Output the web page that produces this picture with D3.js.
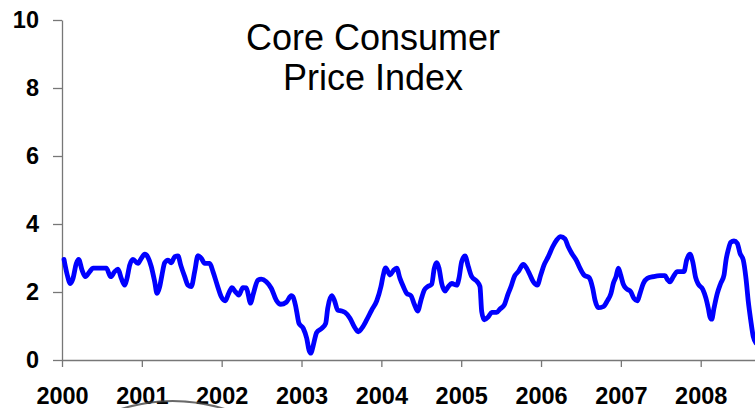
<!DOCTYPE html>
<html lang="en">
<head>
    <meta charset="utf-8" />
    <title>Core Consumer Price Index</title>
    <script src="https://cdn.jsdelivr.net/npm/d3@7"></script>
    <style type="text/css">
        html, body { margin: 0; padding: 0; background: #fff; }
        svg { display: block; }
        .axis path, .axis line { stroke: #777; stroke-width: 1.3px; }
        .axis text { font-family: "Liberation Sans", Arial, sans-serif; font-weight: bold; font-size: 23.5px; fill: #000; }
        .title { font-family: "Liberation Sans", Arial, sans-serif; font-size: 36px; fill: #000; }
    </style>
</head>
<body>
    <svg id="canvas" width="755" height="408" xmlns="http://www.w3.org/2000/svg"></svg>
    <script type="text/javascript">
        // values (decimal year, percent)
        var t = [2000.025, 2000.066, 2000.104, 2000.138, 2000.179, 2000.209, 2000.25, 2000.292, 2000.347, 2000.388,
                 2000.555, 2000.61, 2000.66, 2000.701, 2000.743, 2000.785, 2000.814, 2000.848, 2000.889, 2000.952,
                 2000.993, 2001.036, 2001.077, 2001.118, 2001.161, 2001.19, 2001.224, 2001.252, 2001.286, 2001.328,
                 2001.369, 2001.412, 2001.453, 2001.487, 2001.537, 2001.578, 2001.619, 2001.662, 2001.703, 2001.745,
                 2001.787, 2001.85, 2001.891, 2001.945, 2001.995, 2002.045, 2002.088, 2002.129, 2002.171, 2002.213,
                 2002.267, 2002.308, 2002.363, 2002.392, 2002.455, 2002.496, 2002.559, 2002.621, 2002.684, 2002.739,
                 2002.809, 2002.872, 2002.893, 2002.925, 2002.94, 2002.968, 2003.022, 2003.065, 2003.094, 2003.119,
                 2003.148, 2003.19, 2003.253, 2003.303, 2003.328, 2003.378, 2003.411, 2003.453, 2003.503, 2003.545,
                 2003.607, 2003.661, 2003.711, 2003.754, 2003.816, 2003.879, 2003.942, 2003.995, 2004.024, 2004.054,
                 2004.108, 2004.15, 2004.192, 2004.233, 2004.275, 2004.317, 2004.371, 2004.413, 2004.455, 2004.496,
                 2004.538, 2004.58, 2004.63, 2004.663, 2004.693, 2004.722, 2004.756, 2004.797, 2004.838, 2004.881,
                 2004.944, 2004.972, 2005.006, 2005.048, 2005.089, 2005.132, 2005.194, 2005.235, 2005.257, 2005.289,
                 2005.339, 2005.382, 2005.445, 2005.486, 2005.54, 2005.582, 2005.624, 2005.665, 2005.715, 2005.778,
                 2005.82, 2005.862, 2005.903, 2005.953, 2005.996, 2006.037, 2006.091, 2006.146, 2006.196, 2006.246,
                 2006.3, 2006.341, 2006.384, 2006.447, 2006.488, 2006.538, 2006.604, 2006.647, 2006.676, 2006.717,
                 2006.78, 2006.83, 2006.876, 2006.905, 2006.939, 2006.968, 2006.998, 2007.03, 2007.073, 2007.123,
                 2007.164, 2007.206, 2007.24, 2007.281, 2007.331, 2007.406, 2007.49, 2007.553, 2007.582, 2007.615,
                 2007.657, 2007.707, 2007.79, 2007.824, 2007.866, 2007.9, 2007.937, 2007.97, 2008.025, 2008.066,
                 2008.095, 2008.116, 2008.138, 2008.166, 2008.208, 2008.25, 2008.292, 2008.317, 2008.345, 2008.376,
                 2008.417, 2008.458, 2008.492, 2008.533, 2008.567, 2008.596, 2008.626, 2008.658, 2008.692];
        var cpi = [2.96, 2.5, 2.25, 2.4, 2.84, 2.96, 2.65, 2.45, 2.6, 2.7,
                   2.7, 2.45, 2.6, 2.67, 2.4, 2.2, 2.4, 2.79, 2.96, 2.84,
                   2.99, 3.11, 3.02, 2.75, 2.3, 1.96, 2.16, 2.5, 2.86, 2.94,
                   2.86, 3.04, 3.06, 2.79, 2.45, 2.2, 2.16, 2.6, 3.07, 2.99,
                   2.84, 2.84, 2.6, 2.2, 1.86, 1.74, 1.96, 2.13, 2.01, 1.91,
                   2.13, 2.12, 1.67, 1.91, 2.35, 2.38, 2.3, 2.11, 1.76, 1.64,
                   1.7, 1.89, 1.86, 1.6, 1.42, 1.08, 0.93, 0.64, 0.29, 0.2,
                   0.44, 0.81, 0.93, 1.08, 1.52, 1.89, 1.76, 1.47, 1.44, 1.4,
                   1.23, 0.98, 0.83, 0.93, 1.18, 1.47, 1.74, 2.16, 2.5, 2.71,
                   2.5, 2.63, 2.7, 2.4, 2.16, 1.96, 1.89, 1.64, 1.44, 1.76,
                   2.06, 2.16, 2.23, 2.7, 2.86, 2.7, 2.25, 2.03, 2.16, 2.25,
                   2.2, 2.4, 2.89, 3.06, 2.75, 2.45, 2.32, 2.16, 1.42, 1.18,
                   1.27, 1.4, 1.4, 1.5, 1.62, 1.91, 2.16, 2.45, 2.6, 2.81,
                   2.7, 2.5, 2.3, 2.2, 2.5, 2.79, 3.04, 3.33, 3.53, 3.63,
                   3.56, 3.33, 3.14, 2.91, 2.7, 2.5, 2.42, 2.11, 1.76, 1.54,
                   1.57, 1.74, 1.96, 2.25, 2.45, 2.7, 2.5, 2.23, 2.09, 2.01,
                   1.81, 1.74, 1.96, 2.25, 2.4, 2.45, 2.48, 2.48, 2.37, 2.3,
                   2.45, 2.6, 2.6, 2.94, 3.11, 2.89, 2.42, 2.23, 2.08, 1.81,
                   1.52, 1.27, 1.2, 1.52, 1.96, 2.25, 2.5, 2.94, 3.24, 3.46,
                   3.5, 3.43, 3.14, 2.94, 2.4, 1.72, 1.18, 0.69, 0.5];
        var xTicks = [2000, 2001, 2002, 2003, 2004, 2005, 2006, 2007, 2008];
        var yTicks = [0, 2, 4, 6, 8, 10];
        var titleLines = ["Core Consumer", "Price Index"];

        var svg = d3.select("#canvas");
        var x = d3.scaleLinear().domain([2000, 2008.68]).range([62, 755]),
            y = d3.scaleLinear().domain([0, 10]).range([360, 20]);
        var stretch = 1.05; // axis digits are a touch taller than wide

        svg.append("g")
            .attr("class", "axis")
            .attr("transform", "translate(0,360)")
            .call(d3.axisBottom(x).tickValues(xTicks).tickFormat(d3.format("d"))
                .tickSizeInner(7).tickSizeOuter(0))
            .selectAll("text")
                .attr("y", 25)
                .attr("transform", "scale(1," + stretch + ")");

        svg.append("g")
            .attr("class", "axis")
            .attr("transform", "translate(62,0)")
            .call(d3.axisLeft(y).tickValues(yTicks).tickSizeInner(9).tickSizeOuter(0).tickPadding(14))
            .selectAll("text")
                .attr("dy", "0.3em")
                .attr("transform", "scale(1," + stretch + ")");

        var line = d3.line()
            .x(function (d, i) { return x(t[i]); })
            .y(function (d) { return y(d); })
            .curve(d3.curveMonotoneX);

        svg.append("path")
            .datum(cpi)
            .attr("fill", "none")
            .attr("stroke", "#0000ff")
            .attr("stroke-width", 4.8)
            .attr("stroke-linejoin", "round")
            .attr("stroke-linecap", "round")
            .attr("d", line);

        svg.selectAll(".title")
                .data(titleLines)
            .enter().append("text")
                .attr("class", "title")
                .attr("x", 373)
                .attr("y", function (d, i) { return 50 + i * 40; })
                .attr("text-anchor", "middle")
                .text(function (d) { return d; });

        // grey arc from the slide picture peeking in at the bottom
        svg.append("path")
            .attr("d", "M118,410 Q172,392 228,410")
            .attr("fill", "none")
            .attr("stroke", "#444")
            .attr("stroke-width", 2)
            .attr("opacity", 0.8);
    </script>
</body>
</html>
